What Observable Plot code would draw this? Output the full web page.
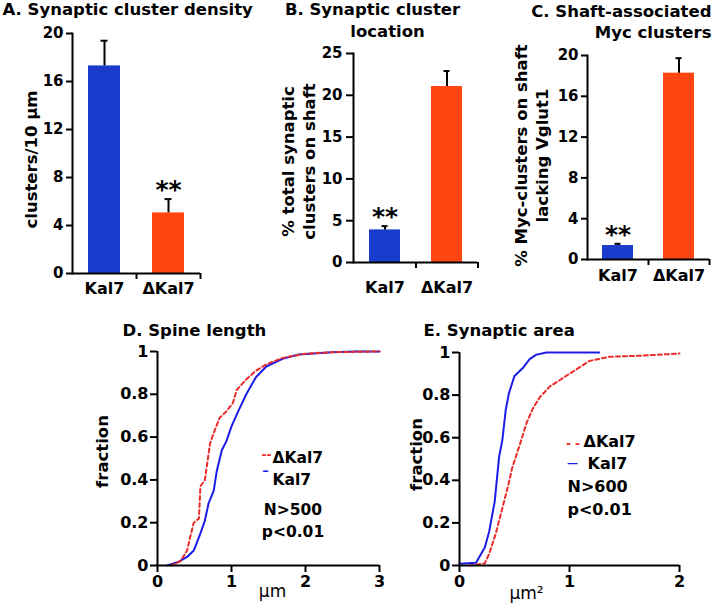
<!DOCTYPE html>
<html><head><meta charset="utf-8">
<script src="https://cdn.jsdelivr.net/npm/d3@7"></script>
<script src="https://cdn.jsdelivr.net/npm/@observablehq/plot@0.6"></script>
<style>
body{margin:0;background:#fff}
#root{position:relative;width:712px;height:606px;overflow:hidden;background:#fff}
#root svg{position:absolute}
</style></head><body><div id="root"></div>
<script>
// ---------- data ----------
const groups = ["Kal7", "ΔKal7"];
const densityMean = [17.3, 5.05];
const densityErr = [2.1, 1.15];
const locationMean = [3.9, 21.05];
const locationErr = [0.45, 1.85];
const mycMean = [1.37, 18.27];
const mycErr = [0.17, 1.47];
const densityTicks = [0, 4, 8, 12, 16, 20];
const locationTicks = [0, 5, 10, 15, 20, 25];
const mycTicks = [0, 4, 8, 12, 16, 20];
const fractionTicks = [0, 0.2, 0.4, 0.6, 0.8, 1];
const spineTicks = [0, 1, 2, 3];
const areaTicks = [0, 1, 2];

const spineKal7X = [0.13,0.27,0.4,0.49,0.58,0.64,0.69,0.76,0.8,0.87,0.93,1.0,1.09,1.2,1.33,1.47,1.69,1.91,2.36,2.67,3.0];
const spineKal7F = [0,0.015,0.04,0.07,0.15,0.21,0.29,0.35,0.44,0.54,0.58,0.65,0.72,0.8,0.88,0.93,0.966,0.986,0.997,1,1];
const spineDKal7X = [0.18,0.31,0.4,0.44,0.49,0.56,0.58,0.64,0.71,0.76,0.84,0.93,1.02,1.07,1.2,1.33,1.47,1.69,2.0,2.36,3.0];
const spineDKal7F = [0,0.02,0.07,0.13,0.2,0.22,0.37,0.4,0.57,0.62,0.69,0.72,0.76,0.82,0.87,0.91,0.94,0.97,0.99,0.997,1];
const areaKal7X = [0,0.15,0.18,0.23,0.27,0.32,0.36,0.39,0.42,0.45,0.5,0.58,0.64,0.7,0.79,1.27];
const areaKal7F = [0.008,0.013,0.04,0.085,0.16,0.3,0.51,0.59,0.73,0.81,0.89,0.93,0.97,0.99,1,1];
const areaDKal7X = [0.09,0.23,0.27,0.33,0.39,0.44,0.48,0.55,0.61,0.67,0.73,0.82,0.94,1.06,1.18,1.36,1.64,2.0];
const areaDKal7F = [0,0.01,0.055,0.15,0.27,0.37,0.46,0.57,0.67,0.74,0.79,0.84,0.88,0.92,0.96,0.98,0.985,0.995];

// ---------- styles ----------
const FONT = "DejaVu Sans";
const BAR_COLORS = ["#1a3ccc", "#ff4512"];
const BLUE = "#1c1ce6", RED = "#ec2b2b";
const root = document.getElementById("root");

function place(svg, left, top) {
  svg.style.left = left + "px";
  svg.style.top = top + "px";
  root.appendChild(svg);
}
// text placed at layout position (x, y) inside a panel's svg
function txt(s, x, y, L, o = {}) {
  return Plot.text([s], {
    frameAnchor: "top-left", dx: x - L.ml, dy: y - L.mt, text: d => d,
    fontFamily: FONT, fontWeight: "bold", fontSize: 16.5, fill: "black",
    lineAnchor: "middle", textAnchor: "middle", ...o
  });
}
const baseStyle = {background: "transparent", overflow: "visible", fontFamily: FONT, fontWeight: "bold", color: "black"};

function barPanel(L, means, errs, yMax, ticks, star, tickSize, tickPadding, labelPad, extra) {
  const data = groups.map((g, i) => ({group: g, mean: means[i], upper: means[i] + errs[i]}));
  const step = (L.width - L.ml - L.mr) / 2;
  return Plot.plot({
    width: L.width, height: L.height,
    marginLeft: L.ml, marginRight: L.mr, marginTop: L.mt, marginBottom: L.mb,
    style: baseStyle,
    x: {domain: groups, paddingInner: 0.5, paddingOuter: 0.25},
    y: {domain: [0, yMax]},
    color: {domain: groups, range: BAR_COLORS},
    marks: [
      Plot.barY(data, {x: "group", y: "mean", fill: "group"}),
      Plot.ruleX(data, {x: "group", y1: "mean", y2: "upper", stroke: "black", strokeWidth: 2}),
      Plot.tickY(data, {x: "group", y: "upper", stroke: "black", strokeWidth: 2, insetLeft: 12.5, insetRight: 12.5}),
      Plot.text(data.filter(d => d.group === star), {x: "group", y: "upper", text: () => "**", dy: -9,
        fontSize: 25, fontWeight: "bold", fontFamily: FONT, lineAnchor: "middle", fill: "black"}),
      Plot.axisY({ticks, tickSize, tickPadding, strokeWidth: 2, fontSize: 15, fontWeight: "bold", fontFamily: FONT, label: null, tickFormat: d => String(d)}),
      Plot.axisX({tickSize: 0, tickPadding: labelPad, fontSize: 16, fontWeight: "bold", fontFamily: FONT, label: null}),
      Plot.axisX({tickSize: 6, strokeWidth: 2, fill: "none", dx: step / 2, label: null}),
      Plot.ruleY([0], {strokeWidth: 2}),
      Plot.frame({anchor: "left", strokeWidth: 2}),
      ...extra
    ]
  });
}

function cdfPanel(L, xMax, xTicks, kX, kF, dX, dF, extra) {
  const kal7 = kX.map((x, i) => ({x, f: kF[i]}));
  const dkal7 = dX.map((x, i) => ({x, f: dF[i]}));
  return Plot.plot({
    width: L.width, height: L.height,
    marginLeft: L.ml, marginRight: L.mr, marginTop: L.mt, marginBottom: L.mb,
    style: baseStyle,
    x: {domain: [0, xMax]},
    y: {domain: [0, 1]},
    marks: [
      Plot.line(kal7, {x: "x", y: "f", stroke: BLUE, strokeWidth: 2}),
      Plot.line(dkal7, {x: "x", y: "f", stroke: RED, strokeWidth: 2, strokeDasharray: "4,3"}),
      Plot.ruleX([0], {strokeWidth: 2}),
      Plot.ruleY([0], {strokeWidth: 2}),
      Plot.axisX({ticks: xTicks, tickSize: 7, tickPadding: 3, strokeWidth: 2, fontSize: 16, fontWeight: "bold", fontFamily: FONT, label: null, tickFormat: d => String(d)}),
      Plot.axisY({ticks: fractionTicks, tickSize: 7, tickPadding: 2, strokeWidth: 2, fontSize: 16, fontWeight: "bold", fontFamily: FONT, label: null, tickFormat: d => String(d)}),
      ...extra
    ]
  });
}

// ---------- Panel A ----------
const LA = {width: 240, height: 300, ml: 72, mr: 40, mt: 33, mb: 27};
place(barPanel(LA, densityMean, densityErr, 20, densityTicks, "ΔKal7", 6, 3, 9, [
  txt("A. Synaptic cluster density", 2, 9.5, LA, {textAnchor: "start"}),
  txt("clusters/10 μm", 31, 159, LA, {rotate: -90})
]), 0, 0);

// ---------- Panel B ----------
const LB = {width: 240, height: 300, ml: 113, mr: 3, mt: 53, mb: 38};
place(barPanel(LB, locationMean, locationErr, 25, locationTicks, "Kal7", 7, 4, 19, [
  txt("B. Synaptic cluster", 132, 9.5, LB),
  txt("location", 147, 31, LB),
  txt("% total synaptic\nclusters on shaft", 57.5, 161, LB, {rotate: -90, lineHeight: 1.27})
]), 240, 0);

// ---------- Panel C ----------
const LC = {width: 242, height: 300, ml: 117, mr: 3, mt: 55, mb: 41};
place(barPanel(LC, mycMean, mycErr, 20, mycTicks, "Kal7", 6, 3, 10, [
  txt("C. Shaft-associated", 241, 11, LC, {textAnchor: "end"}),
  txt("Myc clusters", 241, 32.5, LC, {textAnchor: "end"}),
  txt("% Myc-clusters on shaft\nlacking Vglut1", 60, 155, LC, {rotate: -90, lineHeight: 1.33})
]), 470, 0);

// ---------- Panel D ----------
const LD = {width: 400, height: 306, ml: 157, mr: 21, mt: 51, mb: 41};
place(cdfPanel(LD, 3, spineTicks, spineKal7X, spineKal7F, spineDKal7X, spineDKal7F, [
  txt("D. Spine length", 122, 30.5, LD, {textAnchor: "start"}),
  txt("fraction", 102, 151, LD, {rotate: -90}),
  txt("--", 266, 155, LD, {fill: RED, fontSize: 12}),
  txt("ΔKal7", 272, 158, LD, {textAnchor: "start", fontSize: 15.5}),
  txt("–", 265, 170, LD, {fill: BLUE, fontSize: 13}),
  txt("Kal7", 272, 180, LD, {textAnchor: "start", fontSize: 15.5}),
  txt("N>500", 292.5, 210, LD, {fontSize: 15.5}),
  txt("p<0.01", 292.5, 231.5, LD, {fontSize: 15.5}),
  txt("μm", 272, 291, LD, {fontWeight: "normal", fontSize: 17})
]), 0, 300);

// ---------- Panel E ----------
const LE = {width: 312, height: 306, ml: 59, mr: 33, mt: 52, mb: 41};
place(cdfPanel(LE, 2, areaTicks, areaKal7X, areaKal7F, areaDKal7X, areaDKal7F, [
  txt("E. Synaptic area", 23, 30.5, LE, {textAnchor: "start"}),
  txt("fraction", 16, 154, LE, {rotate: -90}),
  txt("- -", 172.5, 144, LE, {fill: RED, fontSize: 12}),
  txt("ΔKal7", 183, 141.5, LE, {textAnchor: "start", fontSize: 16}),
  txt("—", 172, 163, LE, {fill: BLUE, fontSize: 11}),
  txt("Kal7", 187, 163.5, LE, {textAnchor: "start", fontSize: 16}),
  txt("N>600", 167, 186.5, LE, {textAnchor: "start", fontSize: 16}),
  txt("p<0.01", 167, 209, LE, {textAnchor: "start", fontSize: 16}),
  txt("μm²", 126, 293, LE, {fontWeight: "normal", fontSize: 17})
]), 400, 300);
</script>
</body></html>
